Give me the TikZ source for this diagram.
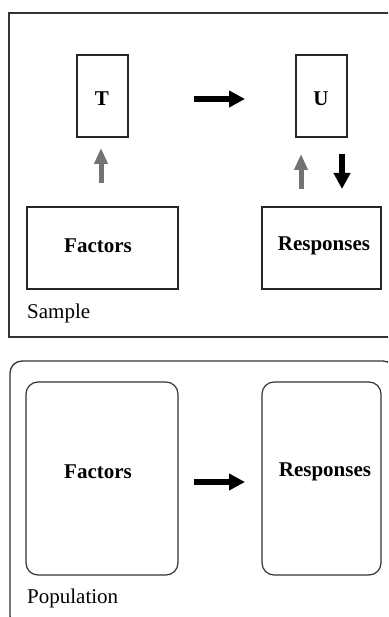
\documentclass[tikz,border=0pt]{standalone}
\usepackage{fontspec}
\setmainfont{Liberation Serif}
\usetikzlibrary{arrows.meta}
\tikzset{
  frame/.style={draw=black!80, line width=1.3pt},
  sbox/.style={draw=black!85, line width=1.4pt, inner sep=0pt},
  rbox/.style={draw=black!80, line width=1.2pt, rounded corners=12pt, inner sep=0pt},
  lbl/.style={font=\fontsize{21}{23}\selectfont\bfseries, inner sep=0pt},
  captext/.style={font=\fontsize{21}{23}\selectfont, anchor=west, inner sep=0pt},
  blk/.style={line width=6.5pt, -{Triangle[length=16pt,width=16pt]}, black},
  gry/.style={line width=5pt, -{Triangle[length=16pt,width=13pt]}, black!55},
}
\begin{document}
\begin{tikzpicture}[x=1pt,y=-1pt]
\useasboundingbox (0,0) rectangle (388,617);
\clip (0,0) rectangle (388,617);
\fill[white] (0,0) rectangle (388,617);
% Sample frame
\draw[frame] (9,13) rectangle (395,337);
% Population frame
\draw[frame, rounded corners=12pt] (10,361) rectangle (395,628);
% upper boxes
\node[sbox, minimum width=51pt, minimum height=82pt] (T) at (102.5,96) {};
\node[lbl] (tT) at (102,99) {T};
\node[sbox, minimum width=51pt, minimum height=82pt] (U) at (321.5,96) {};
\node[lbl] (tU) at (321,99) {U};
\node[sbox, minimum width=151pt, minimum height=82pt] (F1) at (102.5,248) {};
\node[lbl] (tF1) at (98,246) {Factors};
\node[sbox, minimum width=119pt, minimum height=82pt] (R1) at (321.5,248) {};
\node[lbl] (tR1) at (324,246) {Responses};
\node[captext] (samp) at (27,313) {Sample};
% lower boxes
\node[rbox, minimum width=152pt, minimum height=193pt] (F2) at (102,478.5) {};
\node[lbl] (tF2) at (98,472) {Factors};
\node[rbox, minimum width=119pt, minimum height=193pt] (R2) at (321.5,478.5) {};
\node[lbl] (tR2) at (325,472) {Responses};
\node[captext] (pop) at (27,598) {Population};
% arrows
\coordinate (a1s) at (194,99); \coordinate (a1e) at (245,99);
\draw[blk] (a1s) -- (a1e);
\coordinate (a2s) at (194,482); \coordinate (a2e) at (245,482);
\draw[blk] (a2s) -- (a2e);
\coordinate (g1s) at (101,183); \coordinate (g1e) at (101,148);
\draw[gry] (g1s) -- (g1e);
\coordinate (g2s) at (301,189); \coordinate (g2e) at (301,154);
\draw[gry] (g2s) -- (g2e);
\coordinate (d1s) at (342,154); \coordinate (d1e) at (342,189);
\draw[blk] (d1s) -- (d1e);
\end{tikzpicture}
\end{document}
